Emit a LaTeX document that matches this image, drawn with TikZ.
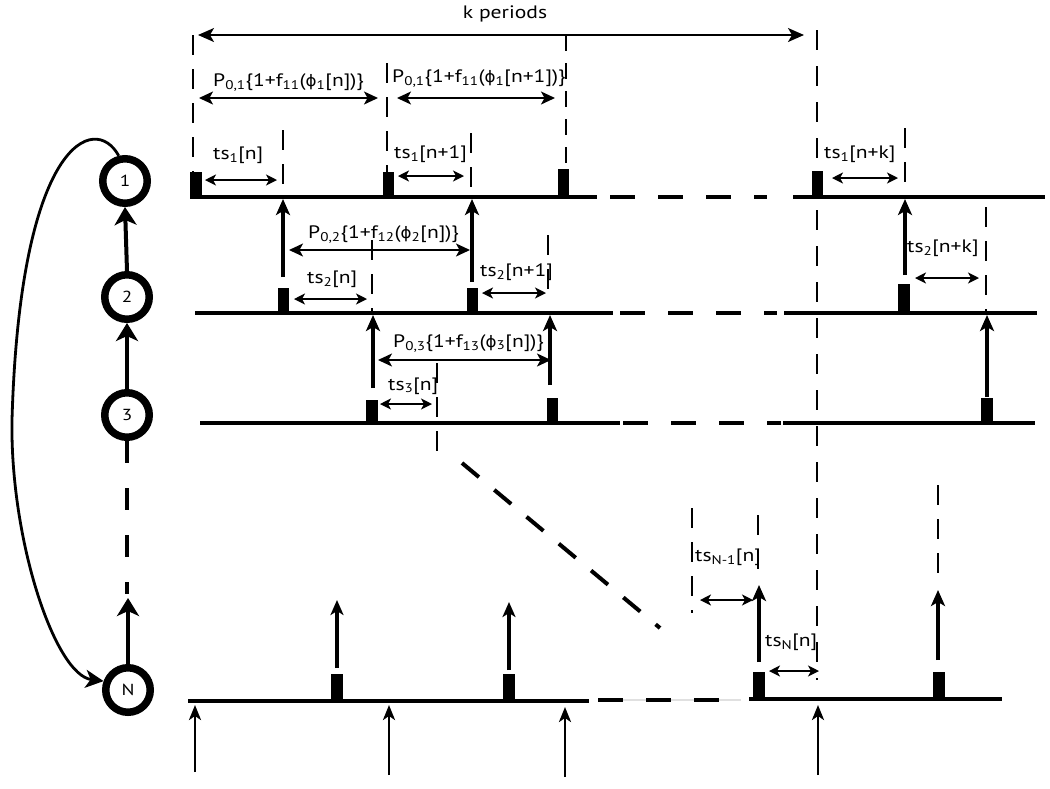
\documentclass[tikz,border=0pt]{standalone}
\usepackage{fontspec}
\setmainfont[FakeStretch=1.2]{PT Sans}
\newfontfamily\grk[FakeStretch=1.05,Scale=0.88]{DejaVu Sans}
\newcommand{\fii}{{\grk ϕ}}
\usetikzlibrary{arrows.meta}
\begin{document}
\begin{tikzpicture}[x=1pt,y=-1pt,
  lbl/.style={font=\fontsize{18}{21}\selectfont, inner sep=0pt, anchor=base west},
  ring/.style={circle, draw, line width=7.5pt, minimum size=44.5pt, inner sep=0pt, font=\fontsize{16}{20}\selectfont},
  tline/.style={line width=4pt},
  tdash/.style={line width=4pt, dash pattern=on 25pt off 23pt},
  vdash/.style={line width=1.6pt, dash pattern=on 20pt off 14pt},
  tsdim/.style={line width=1.4pt, {Stealth[length=11pt,width=11pt,inset=3pt]}-{Stealth[length=11pt,width=11pt,inset=3pt]}},
  pdim/.style={line width=1.5pt, {Stealth[length=14pt,width=13pt,inset=3.5pt]}-{Stealth[length=14pt,width=13pt,inset=3.5pt]}},
  kdim/.style={line width=1.5pt, {Stealth[length=16pt,width=14pt,inset=4pt]}-{Stealth[length=16pt,width=14pt,inset=4pt]}},
  sync/.style={line width=3.6pt, -{Stealth[length=16pt,width=14pt,inset=4pt]}},
  upar/.style={line width=3.2pt, -{Stealth[length=15pt,width=13pt,inset=4pt]}},
  inar/.style={line width=2.6pt, -{Stealth[length=15pt,width=12pt,inset=4pt]}},
  nodear/.style={line width=4pt, -{Stealth[length=18pt,width=22pt,inset=5pt]}},
  curvear/.style={line width=2.8pt, -{Stealth[length=18pt,width=18pt,inset=5pt]}},
  pulse/.style={fill=black},
]
\useasboundingbox (0,0) rectangle (1050,788);

% ---------------- nodes on the left ----------------
\node[ring] (n1) at (125,181) {1};
\node[ring] (n2) at (127,297) {2};
\node[ring] (n3) at (127,415) {3};
\node[ring] (nN) at (128,690) {N};
\coordinate (dN) at (128,598);
\coordinate (d3) at (127,594);
\coordinate (c1) at (12,420);

\draw[nodear] (n2.north) -- (n1.south);
\draw[nodear] (n3.north) -- (n2.south);
\draw[nodear] (nN.north) -- (dN);
\draw[line width=4pt, dash pattern=on 22pt off 25pt] (n3.south) -- (d3);
\draw[curvear] (n1.104) .. controls (95,112) and (20,140) .. (c1)
                        .. controls (10,540) and (55,675) .. (nN.160);

% ---------------- time lines ----------------
% row 1
\draw[tline] (190,197) -- (597,197);
\draw[tdash] (610,197) -- (767,197);
\draw[tline] (793,197) -- (1045,197);
% row 2
\draw[tline] (195,313) -- (613,313);
\draw[tdash] (620,313) -- (777,313);
\draw[tline] (784,313) -- (1037,313);
% row 3
\draw[line width=3.4pt] (200,423) -- (620,423);
\draw[line width=3.4pt, dash pattern=on 25pt off 23pt] (623,423) -- (781,423);
\draw[line width=3.4pt] (783,423) -- (1035,423);
% row N
\draw[tline] (188,701) -- (589,701);
\draw[black!12, line width=2pt] (598,700) -- (741,700);
\draw[tdash] (598,700) -- (720,700);
\draw[tline] (749,699) -- (1002,699);

% ---------------- pulses ----------------
\fill[pulse] (190,172) rectangle (202,197);
\fill[pulse] (383,172) rectangle (394,197);
\fill[pulse] (558,169) rectangle (569,197);
\fill[pulse] (812,171) rectangle (823,197);

\fill[pulse] (278,288) rectangle (289,313);
\fill[pulse] (467,288) rectangle (478,313);
\fill[pulse] (898,284) rectangle (910,313);

\fill[pulse] (366,400) rectangle (378,425);
\fill[pulse] (547,398) rectangle (558,423);
\fill[pulse] (981,398) rectangle (993,423);

\fill[pulse] (331,674) rectangle (343,701);
\fill[pulse] (503,674) rectangle (515,701);
\fill[pulse] (753,672) rectangle (765,699);
\fill[pulse] (933,672) rectangle (945,699);

% ---------------- dashed vertical markers ----------------
\draw[vdash] (193,35) -- (193,172);
\draw[vdash] (283,130) -- (283,197);
\draw[vdash] (387,63) -- (387,172);
\draw[vdash] (471,133) -- (471,197);
\draw[vdash, dash pattern=on 16pt off 12pt] (566,35) -- (566,170);
\draw[vdash, dash pattern=on 20pt off 16pt] (817,30) -- (817,680);
\draw[vdash] (905,128) -- (905,197);
\draw[vdash] (986,207) -- (986,312);
\draw[vdash] (372,240) -- (372,313);
\draw[vdash] (548,235) -- (548,290);
\draw[vdash] (437,363) -- (437,463);
\draw[vdash] (692,508) -- (692,613);
\draw[vdash] (758,515) -- (758,578);
\draw[vdash] (938,485) -- (938,587);
\draw[line width=4pt, dash pattern=on 22pt off 20pt] (462,463) -- (660,628);

% ---------------- synchronisation arrows ----------------
\draw[sync] (283,277) -- (283,199);
\draw[sync] (472,282) -- (472,199);
\draw[sync] (905,275) -- (905,199);
\draw[sync] (373,388) -- (373,315);
\draw[sync] (550,385) -- (550,315);
\draw[sync] (987,397) -- (987,315);

\draw[upar] (337,668) -- (337,600);
\draw[upar] (509,670) -- (509,602);
\draw[sync] (759,662) -- (759,585);
\draw[sync] (938,660) -- (938,590);

\draw[inar] (195,772) -- (195,705);
\draw[inar] (389,775) -- (389,705);
\draw[inar] (565,777) -- (565,707);
\draw[inar] (818,775) -- (818,705);

% ---------------- dimension arrows and labels ----------------
\draw[kdim] (198,35) -- (804,35);
\node[lbl, anchor=base] (lk) at (505,18) {k periods};

\draw[pdim] (199,98) -- (378,98);
\node[lbl] (lp1) at (213,86) {P\textsubscript{0,1}\{1+f\textsubscript{11}(\fii\textsubscript{1}[n])\}};
\draw[pdim] (397,98) -- (555,98);
\node[lbl] (lp2) at (392,82) {P\textsubscript{0,1}\{1+f\textsubscript{11}(\fii\textsubscript{1}[n+1])\}};

\draw[tsdim] (205,180) -- (277,180);
\node[lbl] (lt1) at (213,159) {ts\textsubscript{1}[n]};
\draw[tsdim] (398,176) -- (464,176);
\node[lbl] (lt2) at (394,158) {ts\textsubscript{1}[n+1]};
\draw[tsdim] (832,178) -- (898,178);
\node[lbl] (lt3) at (824,158) {ts\textsubscript{1}[n+k]};

\draw[pdim] (289,250) -- (470,250);
\node[lbl] (lp3) at (308,238) {P\textsubscript{0,2}\{1+f\textsubscript{12}(\fii\textsubscript{2}[n])\}};
\draw[tsdim] (294,299) -- (367,299);
\node[lbl] (lt4) at (307,283) {ts\textsubscript{2}[n]};
\draw[tsdim] (482,293) -- (546,293);
\node[lbl] (lt5) at (480,276) {ts\textsubscript{2}[n+1]};
\draw[tsdim] (915,278) -- (979,278);
\node[lbl] (lt6) at (907,252) {ts\textsubscript{2}[n+k]};

\draw[pdim] (378,360) -- (551,360);
\node[lbl] (lp4) at (393,347) {P\textsubscript{0,3}\{1+f\textsubscript{13}(\fii\textsubscript{3}[n])\}};
\draw[tsdim] (380,404) -- (432,404);
\node[lbl] (lt7) at (388,390) {ts\textsubscript{3}[n]};

\draw[tsdim] (700,600) -- (753,600);
\node[lbl] (lt8) at (695,561) {ts\textsubscript{N-1}[n]};
\draw[tsdim] (769,671) -- (819,671);
\node[lbl] (lt9) at (765,646) {ts\textsubscript{N}[n]};
\end{tikzpicture}
\end{document}
